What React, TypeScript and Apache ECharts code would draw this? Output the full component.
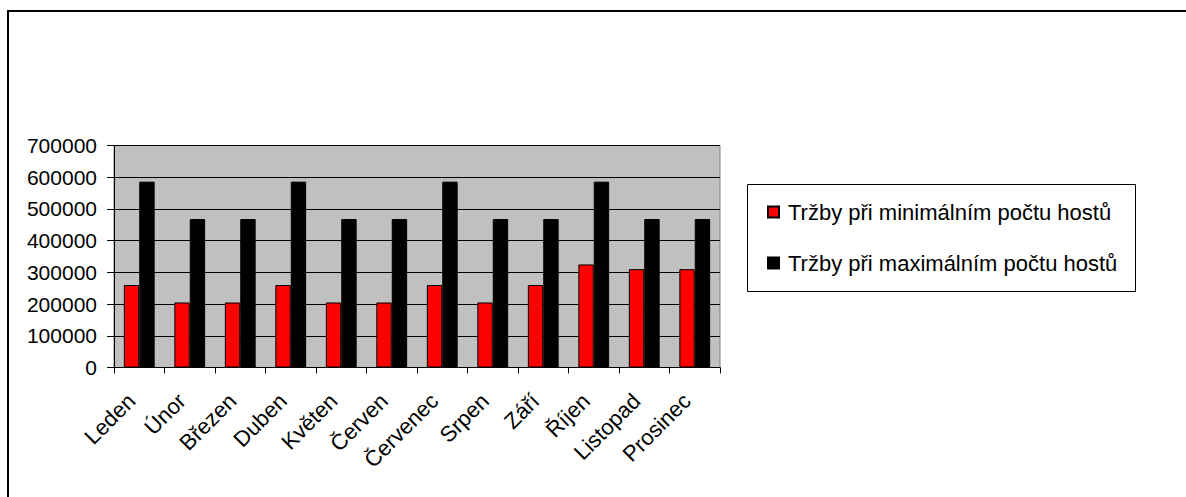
import React, { useEffect, useRef } from "react";
import * as echarts from "echarts";

// Monthly revenue at minimum and maximum guest counts
const months = [
  "Leden", "Únor", "Březen", "Duben", "Květen", "Červen",
  "Červenec", "Srpen", "Září", "Říjen", "Listopad", "Prosinec",
];
const minGuestsRevenue = [
  260000, 205000, 205000, 260000, 205000, 205000,
  260000, 205000, 260000, 325000, 310000, 310000,
];
const maxGuestsRevenue = [
  586000, 468000, 468000, 586000, 468000, 468000,
  586000, 468000, 468000, 586000, 468000, 468000,
];
const seriesNames = [
  "Tržby při minimálním počtu hostů",
  "Tržby při maximálním počtu hostů",
];
const yTicks = { min: 0, max: 700000, interval: 100000 };

const FONT = "'Liberation Sans', Arial, sans-serif";

export default function App() {
  const ref = useRef<HTMLDivElement>(null);

  useEffect(() => {
    if (!ref.current) return;
    const chart = echarts.init(ref.current, null, { renderer: "svg" });
    chart.setOption({
      animation: false,
      backgroundColor: "#ffffff",
      textStyle: { fontFamily: FONT, color: "#000" },
      grid: {
        left: 114,
        right: 466,
        top: 145.5,
        bottom: 129.5,
        show: true,
        backgroundColor: "#c0c0c0",
        borderColor: "#808080",
        borderWidth: 1,
      },
      legend: {
        orient: "vertical",
        left: 767,
        top: 201,
        padding: 0,
        itemWidth: 11,
        itemHeight: 11,
        itemGap: 29,
        textStyle: {
          fontFamily: FONT,
          fontSize: 22,
          color: "#000",
          padding: [0, 0, 0, 4],
        },
        data: seriesNames.map((n) => ({ name: n, icon: "rect" })),
      },
      xAxis: {
        type: "category",
        data: months,
        boundaryGap: true,
        axisLine: { show: true, lineStyle: { color: "#000", width: 1 } },
        axisTick: { show: true, length: 6, lineStyle: { color: "#000" } },
        axisLabel: {
          interval: 0,
          rotate: 45,
          margin: 22,
          padding: [0, 11, 0, 0],
          fontFamily: FONT,
          fontSize: 22,
          color: "#000",
        },
      },
      yAxis: {
        type: "value",
        min: yTicks.min,
        max: yTicks.max,
        interval: yTicks.interval,
        axisLine: { show: true, lineStyle: { color: "#000", width: 1 } },
        axisTick: { show: true, length: 7, lineStyle: { color: "#000" } },
        axisLabel: {
          margin: 17,
          fontFamily: FONT,
          fontSize: 21,
          color: "#000",
          formatter: (v: number) => String(v),
        },
        splitLine: { show: true, lineStyle: { color: "#000", width: 1 } },
      },
      series: [
        {
          name: seriesNames[0],
          type: "bar",
          data: minGuestsRevenue,
          barGap: "0%",
          barCategoryGap: "39%",
          itemStyle: { color: "#ff0000", borderColor: "#000", borderWidth: 1 },
        },
        {
          name: seriesNames[1],
          type: "bar",
          data: maxGuestsRevenue,
          barGap: "0%",
          barCategoryGap: "39%",
          itemStyle: { color: "#000000", borderColor: "#000", borderWidth: 1 },
        },
      ],
      graphic: [
        {
          type: "rect",
          shape: { x: 747.5, y: 184.5, width: 388, height: 107 },
          style: { fill: "none", stroke: "#000", lineWidth: 1 },
          z: 0,
        },
        {
          type: "line",
          shape: { x1: 8, y1: 11, x2: 1186, y2: 11 },
          style: { stroke: "#000", lineWidth: 2 },
        },
        {
          type: "line",
          shape: { x1: 8, y1: 10, x2: 8, y2: 497 },
          style: { stroke: "#000", lineWidth: 2 },
        },
      ],
    });
    return () => chart.dispose();
  }, []);

  return (
    <div
      ref={ref}
      style={{ position: "fixed", left: 0, top: 0, width: 1186, height: 497 }}
    />
  );
}
